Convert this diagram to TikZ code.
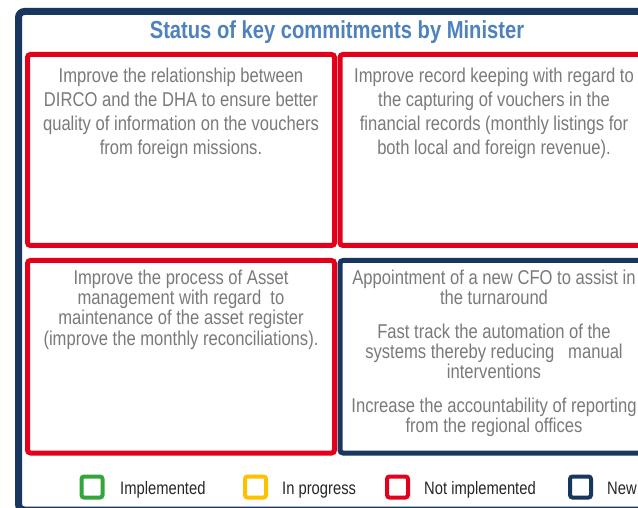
\documentclass[tikz,border=0pt]{standalone}
\usepackage{fontspec}
\newfontfamily\narrowfont[FakeStretch=0.82]{Liberation Sans}
\newfontfamily\bodyfont[FakeStretch=0.83]{Liberation Sans}
\definecolor{navy}{HTML}{17375E}
\definecolor{myred}{HTML}{E2001A}
\definecolor{titleblue}{HTML}{4F81BD}
\definecolor{txtgray}{HTML}{7A7A7A}
\definecolor{mygreen}{HTML}{33A63B}
\definecolor{myyellow}{HTML}{FFC000}
\tikzset{
  frame/.style={draw=navy, line width=7pt, rounded corners=6pt},
  panel/.style={rectangle, line width=5pt, rounded corners=3pt, inner sep=0pt, outer sep=0pt},
  redpanel/.style={panel, draw=myred},
  navypanel/.style={panel, draw=navy},
  bodytxt/.style={anchor=north, align=center, inner sep=0pt, text=txtgray, font=\bodyfont\fontsize{20}{24}\selectfont},
  bodytxtb/.style={bodytxt, font=\bodyfont\fontsize{20}{20.3}\selectfont},
  titletxt/.style={anchor=base, inner sep=0pt, text=titleblue, font=\narrowfont\bfseries\fontsize{24.6}{28}\selectfont},
  legsq/.style={rectangle, line width=4pt, rounded corners=2.5pt, minimum width=21pt, minimum height=21pt, inner sep=0pt},
  legtxt/.style={anchor=base west, inner sep=0pt, text=black!85, font=\narrowfont\fontsize{18}{21}\selectfont}
}
\begin{document}
\begin{tikzpicture}[x=1pt, y=-1pt]
\useasboundingbox (0,0) rectangle (638,508);
\clip (0,0) rectangle (638,508);
\fill[white] (0,0) rectangle (638,508);
% outer frame
\draw[frame] (18.5,510) -- (18.5,11.5) -- (660,11.5) -- (660,510) -- cycle;
% title
\node[titletxt] (title) at (337,39) {Status of key commitments by Minister};
% panels
\node[redpanel, minimum width=307pt, minimum height=191pt] (p1) at (181,150) {};
\node[redpanel, minimum width=308pt, minimum height=191pt] (p2) at (494,150) {};
\node[redpanel, minimum width=307pt, minimum height=192.5pt] (p3) at (181,356.75) {};
\node[navypanel, minimum width=308pt, minimum height=192.5pt] (p4) at (494,356.75) {};
% panel texts
\node[bodytxt] (t1) at (181,67.5) {Improve the relationship between\\DIRCO and the DHA to ensure better\\quality of information on the vouchers\\from foreign missions.};
\node[bodytxt] (t2) at (494,67.5) {Improve record keeping with regard to\\the capturing of vouchers in the\\financial records (monthly listings for\\both local and foreign revenue).};
\node[bodytxtb] (t3) at (181,269.5) {Improve the process of Asset\\management with regard~ to\\maintenance of the asset register\\(improve the monthly reconciliations).};
\node[bodytxtb] (t4) at (494,269.5) {Appointment of a new CFO to assist in\\the turnaround\\[13.5pt]Fast track the automation of the\\systems thereby reducing~~ manual\\interventions\\[13.5pt]Increase the accountability of reporting\\from the regional offices};
% legend
\node[legsq, draw=mygreen] (sq1) at (92,487) {};
\node[legtxt] (l1) at (120,494) {Implemented};
\node[legsq, draw=myyellow] (sq2) at (255.5,487) {};
\node[legtxt] (l2) at (282,494) {In progress};
\node[legsq, draw=myred] (sq3) at (397.5,487) {};
\node[legtxt] (l3) at (424,494) {Not implemented};
\node[legsq, draw=navy] (sq4) at (580.5,487) {};
\node[legtxt] (l4) at (607,494) {New};
\end{tikzpicture}
\end{document}
